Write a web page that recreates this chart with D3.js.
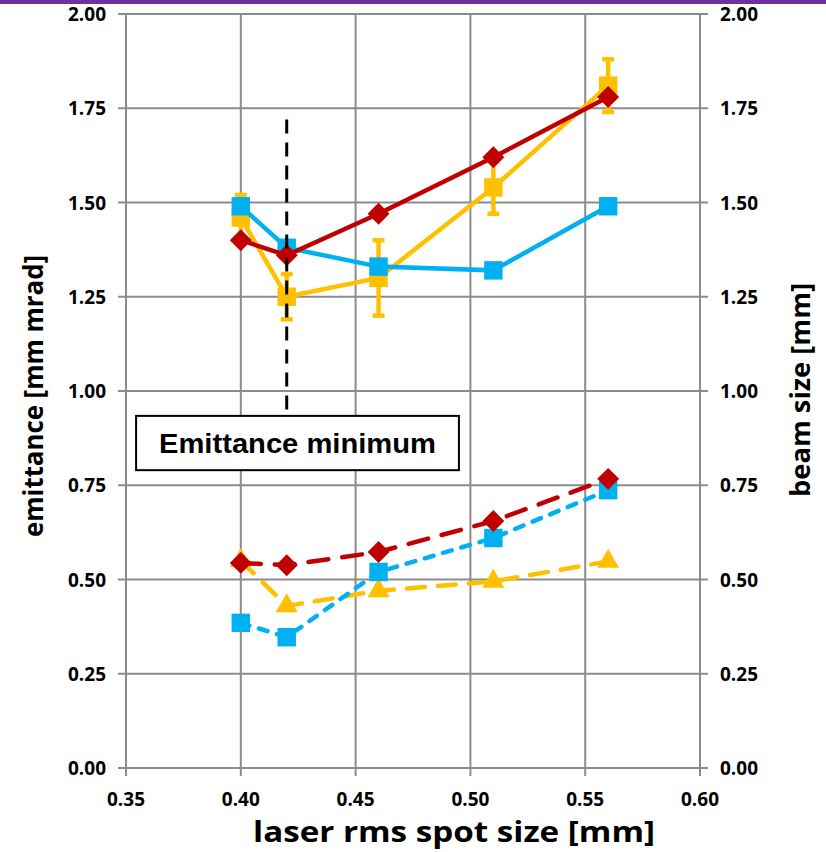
<!DOCTYPE html>
<html>
<head>
<meta charset="utf-8">
<script src="https://cdn.jsdelivr.net/npm/d3@7"></script>
<style>
  body { margin: 0; background: #fff; }
  svg text { font-family: "Open Sans", "Noto Sans", sans-serif; font-weight: bold; }
</style>
</head>
<body>
<svg id="chart" width="826" height="852"></svg>
<script>
// spot sizes (x)
const spotSize = [0.40, 0.42, 0.46, 0.51, 0.56];
// emittance series (left axis, solid)
const emitYellow = [1.46, 1.25, 1.30, 1.54, 1.81];
const emitYellowErr = [0.06, 0.06, 0.10, 0.07, 0.07];
const emitBlue = [1.49, 1.38, 1.33, 1.32, 1.49];
const emitRed = [1.40, 1.36, 1.47, 1.62, 1.78];
// beam size series (right axis, dashed)
const beamYellow = [0.55, 0.43, 0.47, 0.495, 0.548];
const beamBlue = [0.385, 0.347, 0.52, 0.61, 0.737];
const beamRed = [0.544, 0.538, 0.573, 0.655, 0.767];
const xTicks = [0.35, 0.40, 0.45, 0.50, 0.55, 0.60];
const yTicks = [0, 0.25, 0.5, 0.75, 1.0, 1.25, 1.5, 1.75, 2.0];

const svg = d3.select("#chart");
const x = d3.scaleLinear().domain([0.35, 0.60]).range([126, 700]);
const y = d3.scaleLinear().domain([0, 2]).range([768, 14]);
const y2 = d3.scaleLinear().domain([0, 2]).range([768, 14]);

// purple top bar
svg.append("rect").attr("x", 0).attr("y", 0).attr("width", 826).attr("height", 4).attr("fill", "#7030A0");

// grid
const grid = svg.append("g").attr("stroke", "#8c8c8c").attr("stroke-width", 2);
grid.selectAll(".h").data(yTicks).enter().append("line")
  .attr("x1", 118).attr("x2", 708)
  .attr("y1", d => y(d)).attr("y2", d => y(d));
grid.selectAll(".v").data(xTicks).enter().append("line")
  .attr("x1", d => x(d)).attr("x2", d => x(d))
  .attr("y1", y(2)).attr("y2", y(0) + 8);

// tick labels (condensed look via textLength)
svg.append("g").selectAll("text").data(yTicks).enter().append("text")
  .attr("x", 106).attr("y", d => y(d) + 7)
  .attr("text-anchor", "end").attr("font-size", 20)
  .attr("textLength", 38).attr("lengthAdjust", "spacingAndGlyphs")
  .text(d => d3.format(".2f")(d));
svg.append("g").selectAll("text").data(yTicks).enter().append("text")
  .attr("x", 720).attr("y", d => y2(d) + 7)
  .attr("text-anchor", "start").attr("font-size", 20)
  .attr("textLength", 38).attr("lengthAdjust", "spacingAndGlyphs")
  .text(d => d3.format(".2f")(d));
svg.append("g").selectAll("text").data(xTicks).enter().append("text")
  .attr("x", d => x(d)).attr("y", 806)
  .attr("text-anchor", "middle").attr("font-size", 20)
  .attr("textLength", 38).attr("lengthAdjust", "spacingAndGlyphs")
  .text(d => d3.format(".2f")(d));

svg.append("text").attr("x", 454).attr("y", 842).attr("text-anchor", "middle")
  .attr("font-size", 29).attr("textLength", 402).attr("lengthAdjust", "spacingAndGlyphs")
  .text("laser rms spot size [mm]");
svg.append("text").attr("transform", "translate(43,396) rotate(-90)").attr("text-anchor", "middle")
  .attr("font-size", 26).attr("textLength", 282).attr("lengthAdjust", "spacingAndGlyphs")
  .text("emittance [mm mrad]");
svg.append("text").attr("transform", "translate(810,390) rotate(-90)").attr("text-anchor", "middle")
  .attr("font-size", 26).attr("textLength", 214).attr("lengthAdjust", "spacingAndGlyphs")
  .text("beam size [mm]");

const YEL = "#FFC000", BLU = "#00B0F0", RED = "#C00000";

const diamond = {
  draw(ctx, size) {
    const r = Math.sqrt(size) / 2;
    ctx.moveTo(0, -r); ctx.lineTo(r, 0); ctx.lineTo(0, r); ctx.lineTo(-r, 0); ctx.closePath();
  }
};

function series(vals, scale, color, symbol, size, dash) {
  const pts = spotSize.map((s, i) => [s, vals[i]]);
  const line = d3.line().x(d => x(d[0])).y(d => scale(d[1]));
  const g = svg.append("g");
  g.append("path").attr("d", line(pts)).attr("fill", "none")
    .attr("stroke", color).attr("stroke-width", 4.5)
    .attr("stroke-linecap", dash ? "round" : "butt")
    .attr("stroke-dasharray", dash || null);
  g.selectAll("path.m").data(pts).enter().append("path")
    .attr("class", "m")
    .attr("d", d3.symbol().type(symbol).size(size))
    .attr("transform", d => `translate(${x(d[0])},${scale(d[1])})`)
    .attr("fill", color);
  return g;
}

// error bars for yellow emittance
const eb = svg.append("g").attr("stroke", YEL).attr("stroke-width", 4.5);
spotSize.forEach((s, i) => {
  const lo = y(emitYellow[i] - emitYellowErr[i]), hi = y(emitYellow[i] + emitYellowErr[i]);
  eb.append("line").attr("x1", x(s)).attr("x2", x(s)).attr("y1", lo).attr("y2", hi);
  eb.append("line").attr("x1", x(s) - 6).attr("x2", x(s) + 6).attr("y1", lo).attr("y2", lo);
  eb.append("line").attr("x1", x(s) - 6).attr("x2", x(s) + 6).attr("y1", hi).attr("y2", hi);
});

series(emitYellow, y, YEL, d3.symbolSquare, 340);
series(emitBlue, y, BLU, d3.symbolSquare, 340);
series(emitRed, y, RED, diamond, 480);
series(beamYellow, y2, YEL, d3.symbolTriangle, 210, "18 13");
series(beamBlue, y2, BLU, d3.symbolSquare, 340, "9 10");
series(beamRed, y2, RED, diamond, 480, "20 14");

// emittance minimum annotation
svg.append("line").attr("x1", x(0.42)).attr("x2", x(0.42))
  .attr("y1", y(1.72)).attr("y2", y(0.94))
  .attr("stroke", "#000").attr("stroke-width", 3).attr("stroke-dasharray", "14 9");
svg.append("rect").attr("x", x(0.3544)).attr("y", y(0.934))
  .attr("width", x(0.495) - x(0.3544)).attr("height", y(0.79) - y(0.934))
  .attr("fill", "#fff").attr("stroke", "#000").attr("stroke-width", 2);
svg.append("text").attr("x", (x(0.3544) + x(0.495)) / 2).attr("y", y(0.862) + 10)
  .attr("text-anchor", "middle").attr("font-size", 27)
  .attr("textLength", 277).attr("lengthAdjust", "spacingAndGlyphs")
  .style("font-family", "'Liberation Sans', Arial, sans-serif")
  .text("Emittance minimum");
</script>
</body>
</html>
